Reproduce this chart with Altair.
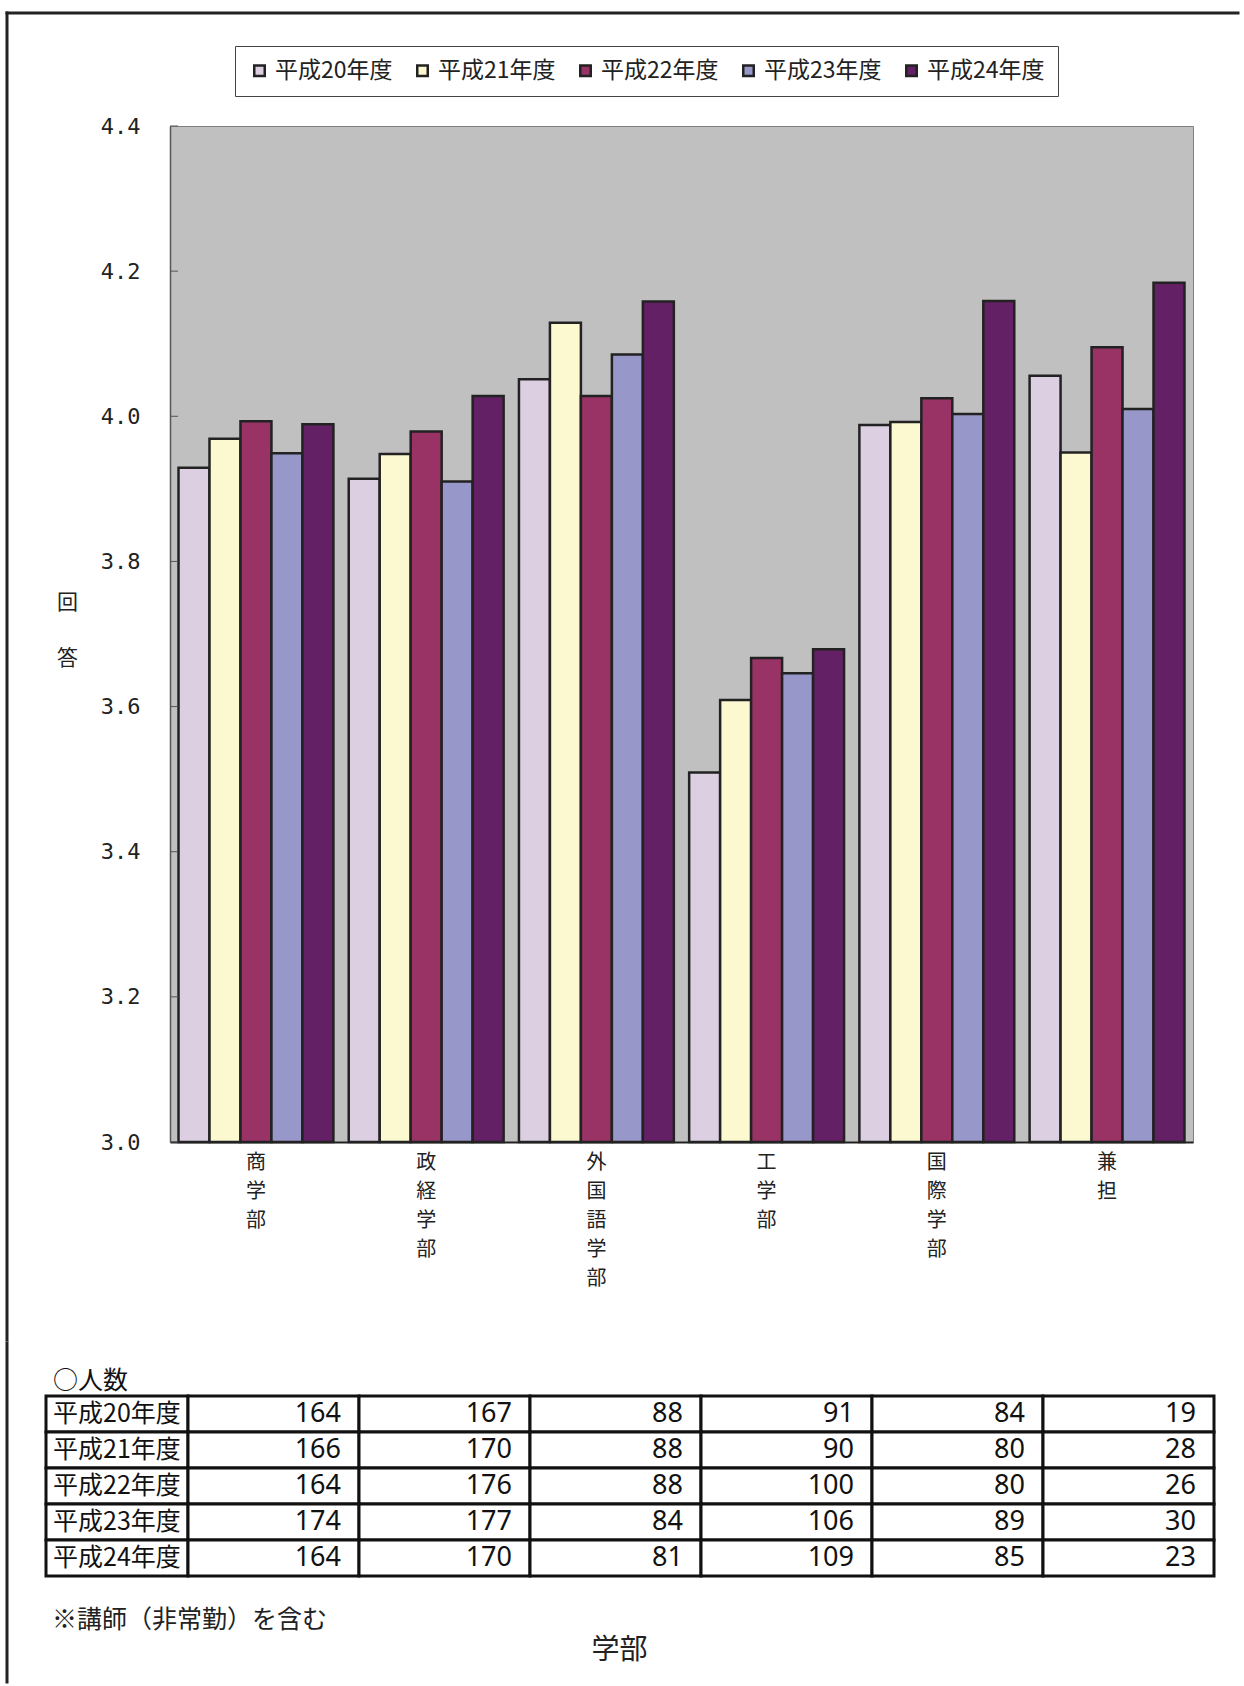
import altair as alt
import pandas as pd

# ---------------- data ----------------
departments = ["商学部", "政経学部", "外国語学部", "工学部", "国際学部", "兼担"]
years = ["平成20年度", "平成21年度", "平成22年度", "平成23年度", "平成24年度"]

score_h20 = [3.929, 3.914, 4.051, 3.509, 3.988, 4.056]
score_h21 = [3.969, 3.948, 4.129, 3.609, 3.992, 3.950]
score_h22 = [3.993, 3.979, 4.028, 3.667, 4.025, 4.095]
score_h23 = [3.949, 3.910, 4.085, 3.646, 4.003, 4.010]
score_h24 = [3.989, 4.028, 4.158, 3.679, 4.159, 4.184]

count_h20 = [164, 167, 88, 91, 84, 19]
count_h21 = [166, 170, 88, 90, 80, 28]
count_h22 = [164, 176, 88, 100, 80, 26]
count_h23 = [174, 177, 84, 106, 89, 30]
count_h24 = [164, 170, 81, 109, 85, 23]

y_ticks = [3.0, 3.2, 3.4, 3.6, 3.8, 4.0, 4.2, 4.4]
y_title = ["回", "答"]
x_title = "学部"
table_title = "○人数"
footnote = "※講師（非常勤）を含む"

# ---------------- styles / layout ----------------
JP = "Noto Sans CJK JP"
colors = ["#dccfe2", "#fcf8cf", "#993366", "#9797c9", "#642064"]
col_widths = [142, 171, 171, 171, 171, 171, 171]
PLOT_W, PLOT_H = 1023, 1016
TABLE_SHIFT = 124          # table starts this many px left of the plot's left edge
FRAME_X = -163             # outer frame line relative to the plot's left edge

scores = [score_h20, score_h21, score_h22, score_h23, score_h24]
counts = [count_h20, count_h21, count_h22, count_h23, count_h24]

bar_df = pd.DataFrame(
    [{"学部": d, "年度": y, "回答": v}
     for y, vals in zip(years, scores) for d, v in zip(departments, vals)]
)

# ---------------- bar panel ----------------
bars = alt.Chart(bar_df).mark_bar(stroke="#222222", strokeWidth=2.5).encode(
    x=alt.X(
        "学部:N", sort=departments,
        scale=alt.Scale(paddingInner=0.09, paddingOuter=0.05),
        axis=alt.Axis(
            title=None, labelAngle=0, labelExpr="split(datum.label, '')",
            labelLineHeight=29, labelFontSize=20, labelFont=JP,
            labelColor="#222222", labelBaseline="top", labelAlign="center",
            labelPadding=10, ticks=False, domainColor="#222222", domainWidth=2,
        ),
    ),
    xOffset=alt.XOffset("年度:N", sort=years, scale=alt.Scale(paddingInner=0, paddingOuter=0)),
    y=alt.Y(
        "回答:Q",
        scale=alt.Scale(domain=[3.0, 4.4], nice=False, zero=False),
        axis=alt.Axis(
            values=y_ticks, format=".1f", ticks=False, grid=False,
            labelFont="DejaVu Sans Mono", labelFontSize=22, labelColor="#222222",
            labelPadding=30, domainColor="#555555", domainWidth=1.5,
            title=y_title, titleAngle=0, titleX=-103, titleY=465,
            titleBaseline="top", titleAlign="center", titleLineHeight=56,
            titleFont=JP, titleFontSize=21, titleFontWeight="normal", titleColor="#222222",
        ),
    ),
    y2=alt.datum(3.0),
    fill=alt.Fill(
        "年度:N", sort=years,
        scale=alt.Scale(domain=years, range=colors),
        legend=alt.Legend(
            title=None, orient="none", legendX=65, legendY=-80,
            direction="horizontal", symbolType="square", symbolSize=110,
            symbolStrokeColor="#222222", symbolStrokeWidth=2.5,
            labelFont=JP, labelFontSize=23, labelColor="#222222", labelOffset=4,
            columnPadding=18, padding=13, strokeColor="#444444", fillColor="white",
        ),
    ),
)

tick_df = pd.DataFrame({"回答": y_ticks})
inner_ticks = alt.Chart(tick_df).mark_rule(color="#555555", strokeWidth=1).encode(
    y="回答:Q", x=alt.value(0), x2=alt.value(8)
)

one = alt.Data(values=[{"k": 1}])
frame_left_top = alt.Chart(one).mark_rule(color="#222222", strokeWidth=3, strokeCap="square").encode(
    x=alt.value(FRAME_X), y=alt.value(-113), y2=alt.value(1214)
)
frame_top = alt.Chart(one).mark_rule(color="#222222", strokeWidth=3, strokeCap="square").encode(
    x=alt.value(FRAME_X), x2=alt.value(1068), y=alt.value(-113)
)

bar_panel = alt.layer(bars, inner_ticks, frame_left_top, frame_top).properties(
    width=PLOT_W, height=PLOT_H,
    view=alt.ViewBackground(fill="#c0c0c0", stroke="#808080", strokeWidth=1),
)

# ---------------- table panel ----------------
edges = [0]
for w in col_widths:
    edges.append(edges[-1] + w)

cells = []
for y, vals in zip(years, counts):
    cells.append({"row": y, "x0": edges[0], "x1": edges[1], "label": y, "count": None})
    for ci, v in enumerate(vals):
        cells.append({"row": y, "x0": edges[ci + 1], "x1": edges[ci + 2], "label": None, "count": v})
table_df = pd.DataFrame(cells)

# 1 px per unit; the table's left edge (0) falls TABLE_SHIFT px left of the plot area
xscale = alt.Scale(domain=[TABLE_SHIFT, TABLE_SHIFT + PLOT_W], nice=False, zero=False)
yscale = alt.Scale(paddingInner=0, paddingOuter=0)

rects = alt.Chart(table_df).mark_rect(fill="white", stroke="#111111", strokeWidth=3).encode(
    x=alt.X(
        "x0:Q", scale=xscale,
        axis=alt.Axis(
            title=x_title, labels=False, ticks=False, domain=False, grid=False,
            titleX=449, titleY=74, titleBaseline="middle", titleAlign="center",
            titleFont=JP, titleFontSize=28, titleFontWeight="normal", titleColor="#222222",
        ),
    ),
    x2="x1:Q",
    y=alt.Y("row:N", sort=years, scale=yscale, axis=None),
)

row_labels = alt.Chart(table_df).transform_filter("datum.label != null").mark_text(
    align="left", baseline="middle", dx=7, font=JP, fontSize=25, color="#111111"
).encode(x="x0:Q", y=alt.Y("row:N", sort=years), text="label:N")

row_counts = alt.Chart(table_df).transform_filter("datum.count != null").mark_text(
    align="right", baseline="middle", dx=-18,
    font="Liberation Sans Narrow, Noto Sans", fontSize=27, color="#111111"
).encode(x="x1:Q", y=alt.Y("row:N", sort=years), text="count:Q")

heading = alt.Chart(one).mark_text(
    align="left", baseline="middle", font=JP, fontSize=25, color="#111111"
).encode(x=alt.value(-TABLE_SHIFT + 7), y=alt.value(-15), text=alt.value(table_title))

note = alt.Chart(one).mark_text(
    align="left", baseline="middle", font=JP, fontSize=25, color="#222222"
).encode(x=alt.value(-TABLE_SHIFT + 6), y=alt.value(224), text=alt.value(footnote))

frame_left_bottom = alt.Chart(one).mark_rule(color="#222222", strokeWidth=3, strokeCap="square").encode(
    x=alt.value(FRAME_X), y=alt.value(-53), y2=alt.value(286)
)

table_panel = alt.layer(rects, row_labels, row_counts, heading, note, frame_left_bottom).properties(
    width=PLOT_W, height=180,
)

chart = alt.vconcat(bar_panel, table_panel, spacing=-3).properties(
    padding={"left": 4, "top": 10, "right": 0, "bottom": 0},
    background="white",
).configure_view(stroke=None)

chart.save("out.html", embed_options={"renderer": "svg", "actions": False})
